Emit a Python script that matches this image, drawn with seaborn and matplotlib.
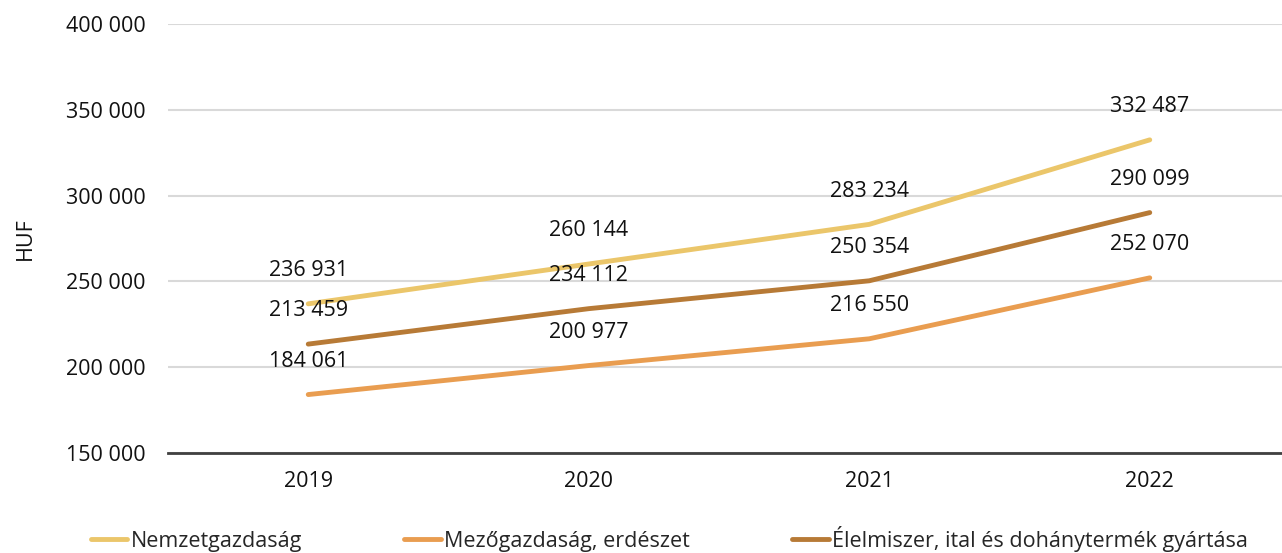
import pandas as pd
import seaborn as sns
import matplotlib.pyplot as plt

# adatok
years = ['2019', '2020', '2021', '2022']
series_names = ['Nemzetgazdaság', 'Mezőgazdaság, erdészet',
                'Élelmiszer, ital és dohánytermék gyártása']
nemzetgazdasag = [236931, 260144, 283234, 332487]
mezogazdasag = [184061, 200977, 216550, 252070]
elelmiszer = [213459, 234112, 250354, 290099]
colors = ['#EBC66A', '#E99D50', '#B77A36']

df = pd.DataFrame({
    'year': years * 3,
    'value': nemzetgazdasag + mezogazdasag + elelmiszer,
    'series': [series_names[0]] * 4 + [series_names[1]] * 4 + [series_names[2]] * 4,
})

sns.set_style('white')
plt.rcParams['font.family'] = ['Open Sans', 'DejaVu Sans']
plt.rcParams['font.size'] = 15

fig = plt.figure(figsize=(12.82, 5.53), dpi=100)
ax = fig.add_axes([168 / 1282, 1 - 453 / 553, 1122 / 1282, 429 / 553])

sns.lineplot(data=df, x='year', y='value', hue='series', palette=colors,
             hue_order=series_names, linewidth=3.5, sort=False, ax=ax,
             legend=False)
for line in ax.lines:
    line.set_solid_capstyle('round')

# címkék a pontok fölött
for _, row in df.iterrows():
    ax.annotate(f"{row['value']:,}".replace(',', ' '),
                (years.index(row['year']), row['value']),
                xytext=(0, 24), textcoords='offset points',
                ha='center', va='center', fontsize=15.5, color='#111111')

ax.set_xlim(-0.5, 3.5)
ax.set_ylim(150000, 400000)
ax.set_yticks(range(150000, 400001, 50000))
ax.set_yticklabels([f"{v:,}".replace(',', ' ') for v in range(150000, 400001, 50000)])
ax.yaxis.grid(True, color='#d9d9d9', linewidth=1.5)
ax.set_axisbelow(True)
for s in ['top', 'right', 'left']:
    ax.spines[s].set_visible(False)
ax.spines['bottom'].set_color('#404040')
ax.spines['bottom'].set_linewidth(2)
ax.tick_params(axis='both', length=0, labelsize=15.5, labelcolor='#111111')
ax.tick_params(axis='x', pad=13)
ax.tick_params(axis='y', pad=16)
ax.set_xlabel('')
ax.set_ylabel('HUF', fontsize=15.5, color='#111111')
ax.yaxis.set_label_coords(-132 / 1122, 0.5)

handles = [plt.Line2D([], [], color=c, linewidth=3.5, solid_capstyle='round') for c in colors]
fig.legend(handles, series_names, loc='center', bbox_to_anchor=(0.522, 0.026),
           ncol=3, frameon=False, handlelength=1.7, handletextpad=0.15,
           columnspacing=4.75, fontsize=15.5, borderpad=0.1)

fig.savefig('out.png', dpi=100)
